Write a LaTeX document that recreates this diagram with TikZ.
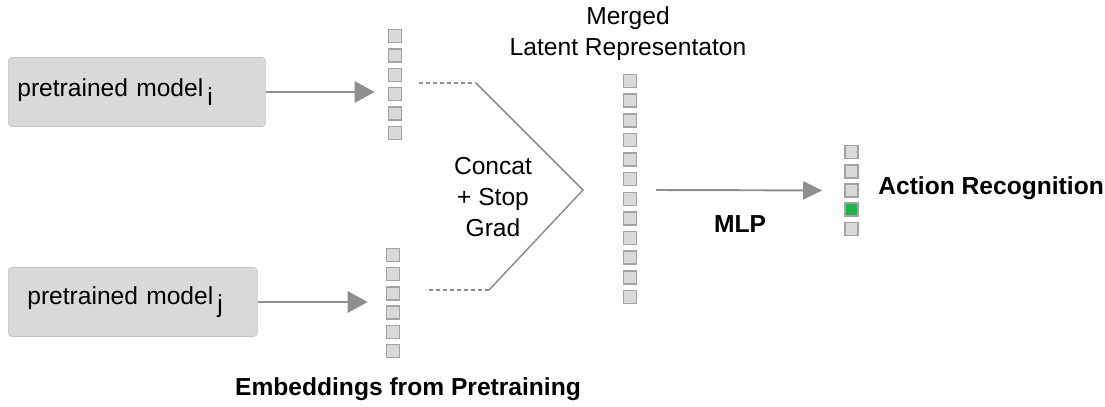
\documentclass[tikz,border=0pt]{standalone}
\usepackage{fontspec}
\setmainfont{Liberation Sans}
\usetikzlibrary{arrows.meta,positioning}
\definecolor{ARBoxFill}{HTML}{D9D9D9}
\definecolor{ARBoxLine}{HTML}{C6C6C6}
\definecolor{ARCellLine}{HTML}{A3A3A3}
\definecolor{ARArrow}{HTML}{8E8E8E}
\definecolor{ARGreen}{HTML}{22B24C}
\tikzset{
  arbox/.style={
    draw=ARBoxLine,
    fill=ARBoxFill,
    rounded corners=2pt,
    align=left,
    minimum height=1.38cm,
    font=\fontsize{14pt}{17.5pt}\selectfont
  },
  arcell/.style={
    draw=ARCellLine,
    fill=ARBoxFill,
    line width=0.9pt,
    minimum size=0.26cm,
    inner sep=0pt
  },
  artext/.style={align=center,font=\fontsize{14pt}{17.5pt}\selectfont},
  arbold/.style={artext,font=\fontsize{14pt}{17.5pt}\selectfont\bfseries},
  arflow/.style={-{Triangle[length=0.4cm,width=0.42cm]},draw=ARArrow,line width=1.7pt},
  arthinflow/.style={-{Triangle[length=0.38cm,width=0.36cm]},draw=ARArrow,line width=1.1pt},
  armerge/.style={draw=ARArrow,line width=0.85pt},
  ardash/.style={armerge,dash pattern=on 0.08cm off 0.06cm}
}
\begin{document}
\begin{tikzpicture}[x=0.02cm,y=-0.02cm]
  \useasboundingbox (0,0) rectangle (1105,406);
  % pretrained models
  \node[arbox,anchor=west,text width=4.78cm,inner xsep=0.18cm] (modeli) at (8,92)
    {pretrained model\,\raisebox{-0.35em}{i}};
  \node[arbox,anchor=west,text width=4.22cm,inner xsep=0.38cm] (modelj) at (8,302)
    {pretrained model\,\raisebox{-0.35em}{j}};
  % embedding vectors
  \foreach \k in {1,...,6} {
    \node[arcell] (ei\k) at (395,{36+19.4*(\k-1)}) {};
    \node[arcell] (ej\k) at (393,{255+19.2*(\k-1)}) {};
  }
  \foreach \k in {1,...,12}
    \node[arcell] (m\k) at (630,{81+19.64*(\k-1)}) {};
  \foreach \k in {1,...,5}
    \node[arcell] (o\k) at (851.5,{152+19.25*(\k-1)}) {};
  \node[arcell,fill=ARGreen] at (o4) {};
  \draw[arflow,shorten >=0.26cm] (modeli.east) -- (modeli.east -| ei4.west);
  \draw[arflow,shorten >=0.36cm] (modelj.east) -- (modelj.east -| ej4.west);
  % concat + stop grad
  \coordinate (dashi) at (419,83);
  \coordinate (kneei) at (476,83);
  \coordinate (apex) at (583,190);
  \coordinate (kneej) at (489,290);
  \coordinate (dashj) at (426,290);
  \draw[ardash] (dashi) -- (kneei);
  \draw[armerge] (kneei) -- (apex) -- (kneej);
  \draw[ardash] (kneej) -- (dashj);
  \node[artext] (concat) at (493,197) {Concat\\+ Stop\\Grad};
  \node[artext] (merged) at (628,34) {Merged\\Latent Representaton};
  % classifier
  \coordinate (mlpstart) at (656,190);
  \draw[arthinflow,shorten >=0.44cm] (mlpstart) -- (o3);
  \node[arbold] (mlp) at (740,224) {MLP};
  \node[arbold,anchor=west,inner xsep=0pt] (action) at (878,188) {Action Recognition};
  \node[arbold] (embed) at (408,389) {Embeddings from Pretraining};
\end{tikzpicture}
\end{document}
